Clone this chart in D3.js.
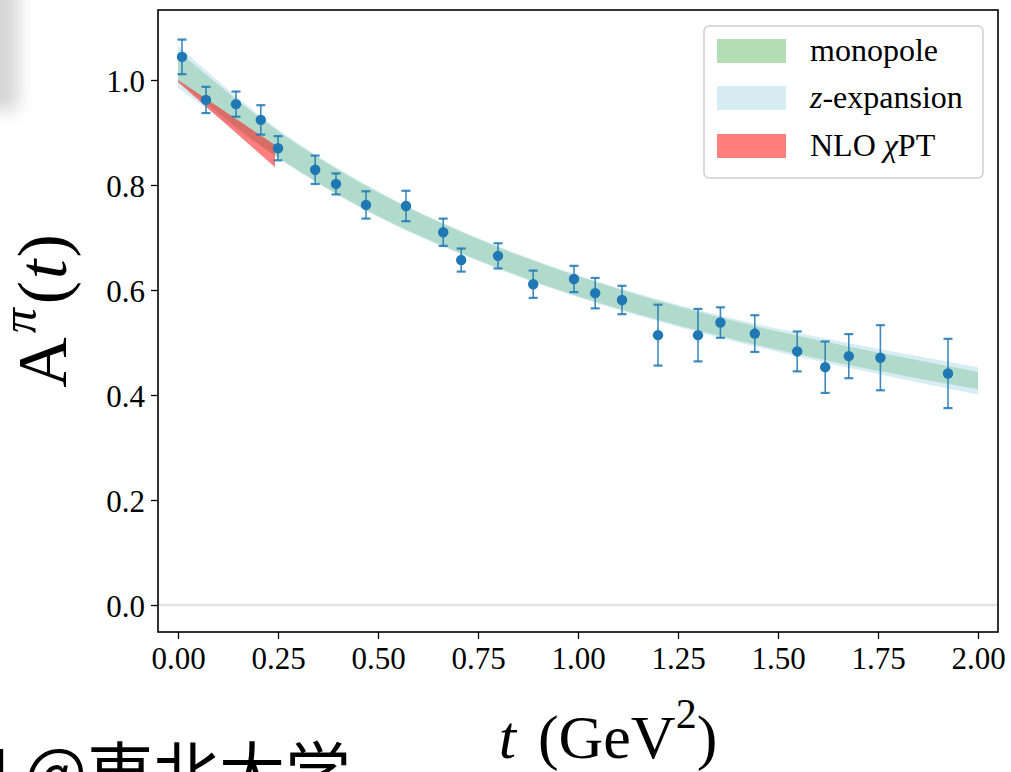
<!DOCTYPE html>
<html>
<head>
<meta charset="utf-8">
<script src="https://cdn.jsdelivr.net/npm/d3@7"></script>
<style>
  body { margin: 0; background: #fff; }
  svg { display: block; }
  text { font-family: "Liberation Serif", "DejaVu Serif", serif; fill: #000; }
</style>
</head>
<body>
<svg id="chart" width="1011" height="772"></svg>
<script>
// lattice data points A^pi(t)
const tVals = [0.01, 0.07, 0.145, 0.207, 0.25, 0.343, 0.395, 0.47, 0.57, 0.663, 0.708, 0.80, 0.888, 0.99, 1.043, 1.11, 1.20, 1.30, 1.356, 1.442, 1.548, 1.618, 1.677, 1.756, 1.925];
const aVals = [1.044, 0.962, 0.954, 0.924, 0.870, 0.829, 0.802, 0.762, 0.760, 0.710, 0.657, 0.665, 0.611, 0.621, 0.594, 0.581, 0.514, 0.514, 0.538, 0.517, 0.483, 0.453, 0.474, 0.471, 0.441];
const aErrs = [0.033, 0.025, 0.024, 0.028, 0.023, 0.027, 0.020, 0.026, 0.029, 0.026, 0.022, 0.024, 0.026, 0.025, 0.029, 0.027, 0.058, 0.050, 0.029, 0.035, 0.038, 0.049, 0.042, 0.062, 0.066];

// fit bands
const bandT = [0, 0.25, 0.5, 0.75, 1.0, 1.25, 1.5, 1.75, 2.0];
const monoLo = [0.999, 0.853, 0.741, 0.657, 0.588, 0.533, 0.486, 0.446, 0.411];
const monoHi = [1.055, 0.903, 0.786, 0.697, 0.626, 0.569, 0.521, 0.481, 0.444];
const zexpLo = [0.985, 0.851, 0.739, 0.655, 0.586, 0.530, 0.482, 0.440, 0.401];
const zexpHi = [1.065, 0.906, 0.788, 0.699, 0.628, 0.572, 0.526, 0.488, 0.453];

const chptT = [0, 0.2425];
const chptLo = [0.996, 0.834];
const chptHi = [1.000, 0.876];

const xTicks = [0, 0.25, 0.5, 0.75, 1.0, 1.25, 1.5, 1.75, 2.0];
const yTicks = [0, 0.2, 0.4, 0.6, 0.8, 1.0];

const legendItems = [
  { key: "mono", color: "#2ca02c", opacity: 0.36 },
  { key: "zexp", color: "#add8e6", opacity: 0.48 },
  { key: "chpt", color: "#ff0000", opacity: 0.5 }
];

const svg = d3.select("#chart");
const mLeft = 158, mRight = 998, mTop = 10, mBottom = 632;

const x = d3.scaleLinear().domain([-0.05, 2.05]).range([mLeft, mRight]);
const y = d3.scaleLinear().domain([-0.0514, 1.1333]).range([mBottom, mTop]);

// faint grey shadow at the top-left corner of the screenshot
const defs = svg.append("defs");
defs.append("filter").attr("id", "blur")
  .attr("x", "-100%").attr("y", "-100%").attr("width", "300%").attr("height", "300%")
  .append("feGaussianBlur").attr("stdDeviation", 9);
svg.append("rect")
  .attr("x", -30).attr("y", -30).attr("width", 48).attr("height", 140)
  .attr("fill", "#d4d4d4").attr("filter", "url(#blur)");

const clip = defs.append("clipPath").attr("id", "plotclip");
clip.append("rect").attr("x", mLeft).attr("y", mTop).attr("width", mRight - mLeft).attr("height", mBottom - mTop);

const plot = svg.append("g").attr("clip-path", "url(#plotclip)");

// zero line
plot.append("line")
  .attr("x1", mLeft).attr("x2", mRight)
  .attr("y1", y(0)).attr("y2", y(0))
  .attr("stroke", "#e3e3e3").attr("stroke-width", 2.5);

function band(ts, lo, hi) {
  const pts = ts.map((t, i) => ({ t, lo: lo[i], hi: hi[i] }));
  return d3.area()
    .x(d => x(d.t))
    .y0(d => y(d.lo))
    .y1(d => y(d.hi))
    .curve(d3.curveMonotoneX)(pts);
}

plot.append("path")
  .attr("d", band(bandT, monoLo, monoHi))
  .attr("fill", legendItems[0].color).attr("fill-opacity", legendItems[0].opacity);
plot.append("path")
  .attr("d", band(bandT, zexpLo, zexpHi))
  .attr("fill", legendItems[1].color).attr("fill-opacity", legendItems[1].opacity);
plot.append("path")
  .attr("d", band(chptT, chptLo, chptHi))
  .attr("fill", legendItems[2].color).attr("fill-opacity", legendItems[2].opacity);

// error bars + points
const pts = tVals.map((t, i) => ({ t, a: aVals[i], e: aErrs[i] }));
const eb = plot.append("g").attr("stroke", "#1f77b4").attr("stroke-opacity", 0.85).attr("stroke-width", 1.6);
pts.forEach(d => {
  const cx = x(d.t);
  eb.append("line").attr("x1", cx).attr("x2", cx).attr("y1", y(d.a - d.e)).attr("y2", y(d.a + d.e));
  [d.a - d.e, d.a + d.e].forEach(v => {
    eb.append("line").attr("x1", cx - 4.5).attr("x2", cx + 4.5).attr("y1", y(v)).attr("y2", y(v))
      .attr("stroke-width", 2.2);
  });
});
plot.append("g").selectAll("circle").data(pts).join("circle")
  .attr("cx", d => x(d.t)).attr("cy", d => y(d.a)).attr("r", 5.2)
  .attr("fill", "#1f77b4");

// axes
const xAxis = svg.append("g").attr("transform", `translate(0,${mBottom})`)
  .call(d3.axisBottom(x).tickValues(xTicks).tickFormat(d3.format(".2f")).tickSize(7).tickPadding(8));
const yAxis = svg.append("g").attr("transform", `translate(${mLeft},0)`)
  .call(d3.axisLeft(y).tickValues(yTicks).tickFormat(d3.format(".1f")).tickSize(7).tickPadding(6));
[xAxis, yAxis].forEach(g => {
  g.select(".domain").remove();
  g.selectAll(".tick line").attr("stroke", "#000").attr("stroke-width", 1.3);
  g.selectAll(".tick text").attr("font-size", 31).attr("font-family", "Liberation Serif").attr("fill", "#000");
});
yAxis.selectAll(".tick text").attr("dy", "0.36em");

svg.append("rect")
  .attr("x", mLeft).attr("y", mTop).attr("width", mRight - mLeft).attr("height", mBottom - mTop)
  .attr("fill", "none").attr("stroke", "#000").attr("stroke-width", 1.6);

// legend
const lg = svg.append("g");
lg.append("rect")
  .attr("x", 704).attr("y", 26).attr("width", 279).attr("height", 152).attr("rx", 5)
  .attr("fill", "#fff").attr("fill-opacity", 0.8)
  .attr("stroke", "#d0d0d0").attr("stroke-width", 1.5);
const rowY = [51, 98, 146];
legendItems.forEach((it, i) => {
  lg.append("rect")
    .attr("x", 717).attr("y", rowY[i] - 12).attr("width", 69).attr("height", 24)
    .attr("fill", it.color).attr("fill-opacity", it.opacity);
});
const lt0 = lg.append("text").attr("x", 810).attr("y", rowY[0] + 10).attr("font-size", 32);
lt0.text("monopole");
const lt1 = lg.append("text").attr("x", 810).attr("y", rowY[1] + 10).attr("font-size", 32);
lt1.append("tspan").attr("font-style", "italic").text("z");
lt1.append("tspan").text("-expansion");
const lt2 = lg.append("text").attr("x", 810).attr("y", rowY[2] + 10).attr("font-size", 32);
lt2.append("tspan").text("NLO ");
lt2.append("tspan").attr("font-style", "italic").text("χ");
lt2.append("tspan").text("PT");

// y label
const yl = svg.append("text")
  .attr("transform", "translate(66,311) rotate(-90)")
  .attr("text-anchor", "middle").attr("font-size", 70);
yl.append("tspan").text("A");
yl.append("tspan").attr("font-style", "italic").attr("font-size", 50).attr("dx", 4).attr("dy", "-0.6em").text("π");
yl.append("tspan").attr("dx", 4).attr("dy", "0.43em").text("(");
yl.append("tspan").attr("font-style", "italic").attr("dx", 2).text("t");
yl.append("tspan").attr("dx", 2).text(")");

// x label
const xl = svg.append("text")
  .attr("x", 608).attr("y", 758)
  .attr("text-anchor", "middle").attr("font-size", 62);
xl.append("tspan").attr("font-style", "italic").text("t");
xl.append("tspan").attr("dx", 22).text("(GeV");
xl.append("tspan").attr("font-size", 42).attr("dy", "-0.72em").text("2");
xl.append("tspan").attr("dy", "0.49em").text(")");

// watermark (cut off by the bottom edge, as in the screenshot)
svg.append("text")
  .attr("x", 351).attr("y", 797).attr("text-anchor", "end")
  .attr("font-size", 66)
  .style("font-family", "'Noto Sans CJK SC', 'Noto Sans CJK JP', sans-serif")
  .text("H @東北大学");
</script>
</body>
</html>
